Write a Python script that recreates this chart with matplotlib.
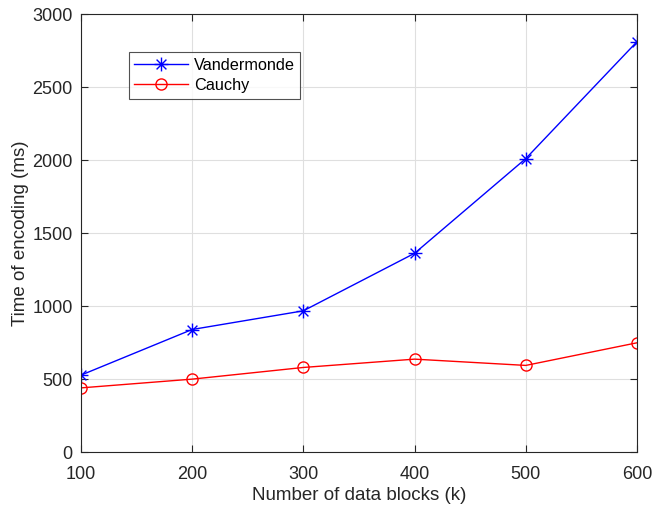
import numpy as np
import matplotlib
matplotlib.use("Agg")
import matplotlib.pyplot as plt
from matplotlib.path import Path

plt.rcParams['font.family'] = ['Liberation Sans', 'DejaVu Sans']

blocks = [100, 200, 300, 400, 500, 600]
vandermonde = [527, 840, 968, 1362, 2011, 2812]
cauchy = [440, 500, 580, 637, 594, 749]

dark = '#262626'

# MATLAB style asterisk: plus and cross overlaid
d = 0.7071
star = Path([(-1, 0), (1, 0), (0, -1), (0, 1), (-d, -d), (d, d), (-d, d), (d, -d)],
            [Path.MOVETO, Path.LINETO] * 4)

fig = plt.figure(figsize=(6.52, 5.08), dpi=100)
ax = fig.add_axes([0.124, 0.110, 0.853, 0.862])

ax.plot(blocks, vandermonde, 'b-', marker=star, markersize=10, markeredgewidth=1.0,
        markerfacecolor='none', linewidth=1.0, label='Vandermonde')
ax.plot(blocks, cauchy, 'r-', marker='o', markersize=8, markeredgewidth=1.0,
        markerfacecolor='none', linewidth=1.0, label='Cauchy')

ax.set_xlim(100, 600)
ax.set_ylim(0, 3000)
ax.set_xticks(blocks)
ax.set_yticks(np.arange(0, 3001, 500))
ax.grid(True, color='#dfdfdf', linewidth=0.8)
ax.set_axisbelow(True)

ax.tick_params(direction='in', top=True, right=True, colors=dark, labelsize=13,
               length=5, width=0.8)
ax.tick_params(axis='x', pad=10)
ax.tick_params(axis='y', pad=6)
for s in ax.spines.values():
    s.set_color(dark)
    s.set_linewidth(0.8)

ax.set_xlabel('Number of data blocks (k)', fontsize=13.5, color=dark, labelpad=3)
ax.set_ylabel('Time of encoding (ms)', fontsize=13.5, color=dark, labelpad=2)

leg = ax.legend(loc='upper left', bbox_to_anchor=(0.086, 0.913), fontsize=11.7,
                frameon=True, fancybox=False, edgecolor=dark, borderaxespad=0,
                handlelength=3.3, handletextpad=0.35, labelspacing=0.3, borderpad=0.35)
leg.get_frame().set_linewidth(0.8)

fig.savefig('out.png', dpi=100)
